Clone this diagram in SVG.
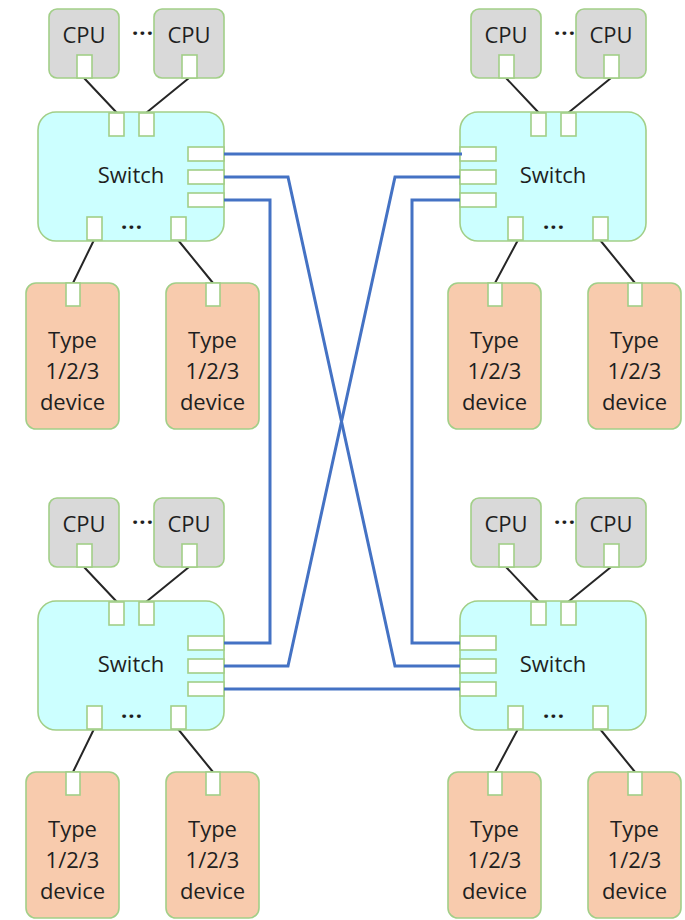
<svg xmlns="http://www.w3.org/2000/svg" width="685" height="920" viewBox="0 0 685 920">
  <style>
    .cpu { fill: #d9d9d9; stroke: #a2cf88; stroke-width: 1.6; }
    .sw { fill: #ccffff; stroke: #a2cf88; stroke-width: 1.6; }
    .dev { fill: #f8cbad; stroke: #a2cf88; stroke-width: 1.6; }
    .port { fill: #ffffff; stroke: #a2cf88; stroke-width: 1.6; }
    .lbl { font-family: "Open Sans", "Noto Sans", "DejaVu Sans", sans-serif; font-size: 22px; fill: #1f1f1f; text-anchor: middle; }
    .dots { font-family: "Open Sans", "Noto Sans", "DejaVu Sans", sans-serif; font-size: 22px; font-weight: bold; fill: #1f1f1f; text-anchor: middle; letter-spacing: 1px; }
    .wire { stroke: #262626; stroke-width: 2; fill: none; }
    .link { stroke: #4472c4; stroke-width: 3; fill: none; }
  </style>

  <!-- Black wires between CPUs/devices and their switch -->
  <g id="local-wires">
    <g id="wires-tl" transform="translate(0,0)">
      <path class="wire" d="M84,78 L117,113 M189,78 L146,113 M94,240 L73,283 M178,240 L213,283"/>
    </g>
    <g id="wires-tr" transform="translate(422,0)">
      <path class="wire" d="M84,78 L117,113 M189,78 L146,113 M96,240 L73,283 M178,240 L213,283"/>
    </g>
    <g id="wires-bl" transform="translate(0,489)">
      <path class="wire" d="M84,78 L117,113 M189,78 L146,113 M94,240 L73,283 M178,240 L213,283"/>
    </g>
    <g id="wires-br" transform="translate(422,489)">
      <path class="wire" d="M84,78 L117,113 M189,78 L146,113 M96,240 L73,283 M178,240 L213,283"/>
    </g>
  </g>

  <!-- Top-left cluster -->
  <g id="cpu-tl-1">
    <rect class="cpu" x="49" y="9" width="70" height="69" rx="8"/>
    <text class="lbl" x="84" y="43">CPU</text>
    <rect class="port" x="77" y="55" width="15" height="23"/>
  </g>
  <text class="dots" x="143" y="41">···</text>
  <g id="cpu-tl-2">
    <rect class="cpu" x="154" y="9" width="70" height="69" rx="8"/>
    <text class="lbl" x="189" y="43">CPU</text>
    <rect class="port" x="182" y="55" width="15" height="23"/>
  </g>
  <g id="switch-tl">
    <rect class="sw" x="38" y="112" width="186" height="129" rx="18"/>
    <text class="lbl" x="131" y="183">Switch</text>
    <rect class="port" x="109" y="113" width="15" height="23"/>
    <rect class="port" x="139" y="113" width="15" height="23"/>
    <rect class="port" x="188" y="147" width="36" height="14"/>
    <rect class="port" x="188" y="170" width="36" height="14"/>
    <rect class="port" x="188" y="193" width="36" height="14"/>
    <rect class="port" x="87" y="217" width="15" height="23"/>
    <rect class="port" x="171" y="217" width="15" height="23"/>
    <text class="dots" x="132" y="235">···</text>
  </g>
  <g id="dev-tl-1">
    <rect class="dev" x="26" y="283" width="93" height="146" rx="10"/>
    <rect class="port" x="66" y="283" width="14" height="23"/>
    <text class="lbl" x="72.5" y="348">Type</text>
    <text class="lbl" x="72.5" y="379">1/2/3</text>
    <text class="lbl" x="72.5" y="410">device</text>
  </g>
  <g id="dev-tl-2">
    <rect class="dev" x="166" y="283" width="93" height="146" rx="10"/>
    <rect class="port" x="206" y="283" width="14" height="23"/>
    <text class="lbl" x="212.5" y="348">Type</text>
    <text class="lbl" x="212.5" y="379">1/2/3</text>
    <text class="lbl" x="212.5" y="410">device</text>
  </g>

  <!-- Top-right cluster -->
  <g id="cpu-tr-1">
    <rect class="cpu" x="471" y="9" width="70" height="69" rx="8"/>
    <text class="lbl" x="506" y="43">CPU</text>
    <rect class="port" x="499" y="55" width="15" height="23"/>
  </g>
  <text class="dots" x="565" y="41">···</text>
  <g id="cpu-tr-2">
    <rect class="cpu" x="576" y="9" width="70" height="69" rx="8"/>
    <text class="lbl" x="611" y="43">CPU</text>
    <rect class="port" x="604" y="55" width="15" height="23"/>
  </g>
  <g id="switch-tr">
    <rect class="sw" x="460" y="112" width="186" height="129" rx="18"/>
    <text class="lbl" x="553" y="183">Switch</text>
    <rect class="port" x="531" y="113" width="15" height="23"/>
    <rect class="port" x="561" y="113" width="15" height="23"/>
    <rect class="port" x="460" y="147" width="36" height="14"/>
    <rect class="port" x="460" y="170" width="36" height="14"/>
    <rect class="port" x="460" y="193" width="36" height="14"/>
    <rect class="port" x="508" y="217" width="15" height="23"/>
    <rect class="port" x="593" y="217" width="15" height="23"/>
    <text class="dots" x="554" y="235">···</text>
  </g>
  <g id="dev-tr-1">
    <rect class="dev" x="448" y="283" width="93" height="146" rx="10"/>
    <rect class="port" x="488" y="283" width="14" height="23"/>
    <text class="lbl" x="494.5" y="348">Type</text>
    <text class="lbl" x="494.5" y="379">1/2/3</text>
    <text class="lbl" x="494.5" y="410">device</text>
  </g>
  <g id="dev-tr-2">
    <rect class="dev" x="588" y="283" width="93" height="146" rx="10"/>
    <rect class="port" x="628" y="283" width="14" height="23"/>
    <text class="lbl" x="634.5" y="348">Type</text>
    <text class="lbl" x="634.5" y="379">1/2/3</text>
    <text class="lbl" x="634.5" y="410">device</text>
  </g>

  <!-- Bottom-left cluster -->
  <g id="cpu-bl-1">
    <rect class="cpu" x="49" y="498" width="70" height="69" rx="8"/>
    <text class="lbl" x="84" y="532">CPU</text>
    <rect class="port" x="77" y="544" width="15" height="23"/>
  </g>
  <text class="dots" x="143" y="530">···</text>
  <g id="cpu-bl-2">
    <rect class="cpu" x="154" y="498" width="70" height="69" rx="8"/>
    <text class="lbl" x="189" y="532">CPU</text>
    <rect class="port" x="182" y="544" width="15" height="23"/>
  </g>
  <g id="switch-bl">
    <rect class="sw" x="38" y="601" width="186" height="129" rx="18"/>
    <text class="lbl" x="131" y="672">Switch</text>
    <rect class="port" x="109" y="602" width="15" height="23"/>
    <rect class="port" x="139" y="602" width="15" height="23"/>
    <rect class="port" x="188" y="636" width="36" height="14"/>
    <rect class="port" x="188" y="659" width="36" height="14"/>
    <rect class="port" x="188" y="682" width="36" height="14"/>
    <rect class="port" x="87" y="706" width="15" height="23"/>
    <rect class="port" x="171" y="706" width="15" height="23"/>
    <text class="dots" x="132" y="724">···</text>
  </g>
  <g id="dev-bl-1">
    <rect class="dev" x="26" y="772" width="93" height="146" rx="10"/>
    <rect class="port" x="66" y="772" width="14" height="23"/>
    <text class="lbl" x="72.5" y="837">Type</text>
    <text class="lbl" x="72.5" y="868">1/2/3</text>
    <text class="lbl" x="72.5" y="899">device</text>
  </g>
  <g id="dev-bl-2">
    <rect class="dev" x="166" y="772" width="93" height="146" rx="10"/>
    <rect class="port" x="206" y="772" width="14" height="23"/>
    <text class="lbl" x="212.5" y="837">Type</text>
    <text class="lbl" x="212.5" y="868">1/2/3</text>
    <text class="lbl" x="212.5" y="899">device</text>
  </g>

  <!-- Bottom-right cluster -->
  <g id="cpu-br-1">
    <rect class="cpu" x="471" y="498" width="70" height="69" rx="8"/>
    <text class="lbl" x="506" y="532">CPU</text>
    <rect class="port" x="499" y="544" width="15" height="23"/>
  </g>
  <text class="dots" x="565" y="530">···</text>
  <g id="cpu-br-2">
    <rect class="cpu" x="576" y="498" width="70" height="69" rx="8"/>
    <text class="lbl" x="611" y="532">CPU</text>
    <rect class="port" x="604" y="544" width="15" height="23"/>
  </g>
  <g id="switch-br">
    <rect class="sw" x="460" y="601" width="186" height="129" rx="18"/>
    <text class="lbl" x="553" y="672">Switch</text>
    <rect class="port" x="531" y="602" width="15" height="23"/>
    <rect class="port" x="561" y="602" width="15" height="23"/>
    <rect class="port" x="460" y="636" width="36" height="14"/>
    <rect class="port" x="460" y="659" width="36" height="14"/>
    <rect class="port" x="460" y="682" width="36" height="14"/>
    <rect class="port" x="508" y="706" width="15" height="23"/>
    <rect class="port" x="593" y="706" width="15" height="23"/>
    <text class="dots" x="554" y="724">···</text>
  </g>
  <g id="dev-br-1">
    <rect class="dev" x="448" y="772" width="93" height="146" rx="10"/>
    <rect class="port" x="488" y="772" width="14" height="23"/>
    <text class="lbl" x="494.5" y="837">Type</text>
    <text class="lbl" x="494.5" y="868">1/2/3</text>
    <text class="lbl" x="494.5" y="899">device</text>
  </g>
  <g id="dev-br-2">
    <rect class="dev" x="588" y="772" width="93" height="146" rx="10"/>
    <rect class="port" x="628" y="772" width="14" height="23"/>
    <text class="lbl" x="634.5" y="837">Type</text>
    <text class="lbl" x="634.5" y="868">1/2/3</text>
    <text class="lbl" x="634.5" y="899">device</text>
  </g>

  <!-- Switch-to-switch links -->
  <g id="links">
    <path class="link" d="M224,154 H462"/>
    <path class="link" d="M224,177 H288 L395,666 H460"/>
    <path class="link" d="M224,200 H270 V643 H224"/>
    <path class="link" d="M460,177 H395 L288,666 H224"/>
    <path class="link" d="M460,200 H412 V643 H460"/>
    <path class="link" d="M224,689 H460"/>
  </g>
</svg>
